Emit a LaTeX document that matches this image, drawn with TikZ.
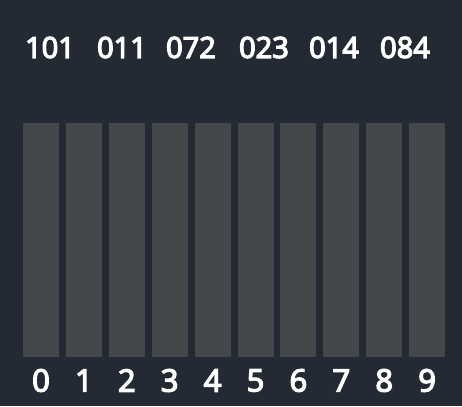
\documentclass[tikz,border=0pt]{standalone}
\usepackage{fontspec}
\setmainfont{Open Sans}
\usepackage{xcolor}
\definecolor{boardbg}{RGB}{35,42,51}
\definecolor{bucketgray}{RGB}{69,72,75}
\newcommand{\heavytext}[1]{\special{pdf:literal 2 Tr 1.3 w}#1\special{pdf:literal 0 Tr}}

\begin{document}
\begin{tikzpicture}[x=1pt,y=1pt,
		bucket/.style={fill=bucketgray,draw=none},
		keylabel/.style={text=white,font=\fontsize{29}{32}\selectfont,inner sep=0pt},
		indexlabel/.style={text=white,font=\fontsize{31}{34}\selectfont,inner sep=0pt}]
			\fill[boardbg] (0,0) rectangle (462,406);
			\useasboundingbox (0,0) rectangle (462,406);
			% keys
			\foreach \k/\x in {101/50,011/122,072/191,023/264,014/334,084/405}
				\node[keylabel] (key\k) at (\x,358.5) {\heavytext{\k}};
			% buckets and their indices
			\foreach \i in {0,...,9} {
				\fill[bucket] (23+42.9*\i,49) rectangle (59+42.9*\i,283);
				\node[indexlabel] (idx\i) at (41+42.9*\i,25.5) {\heavytext{\i}};
			}
		\end{tikzpicture}
\end{document}
